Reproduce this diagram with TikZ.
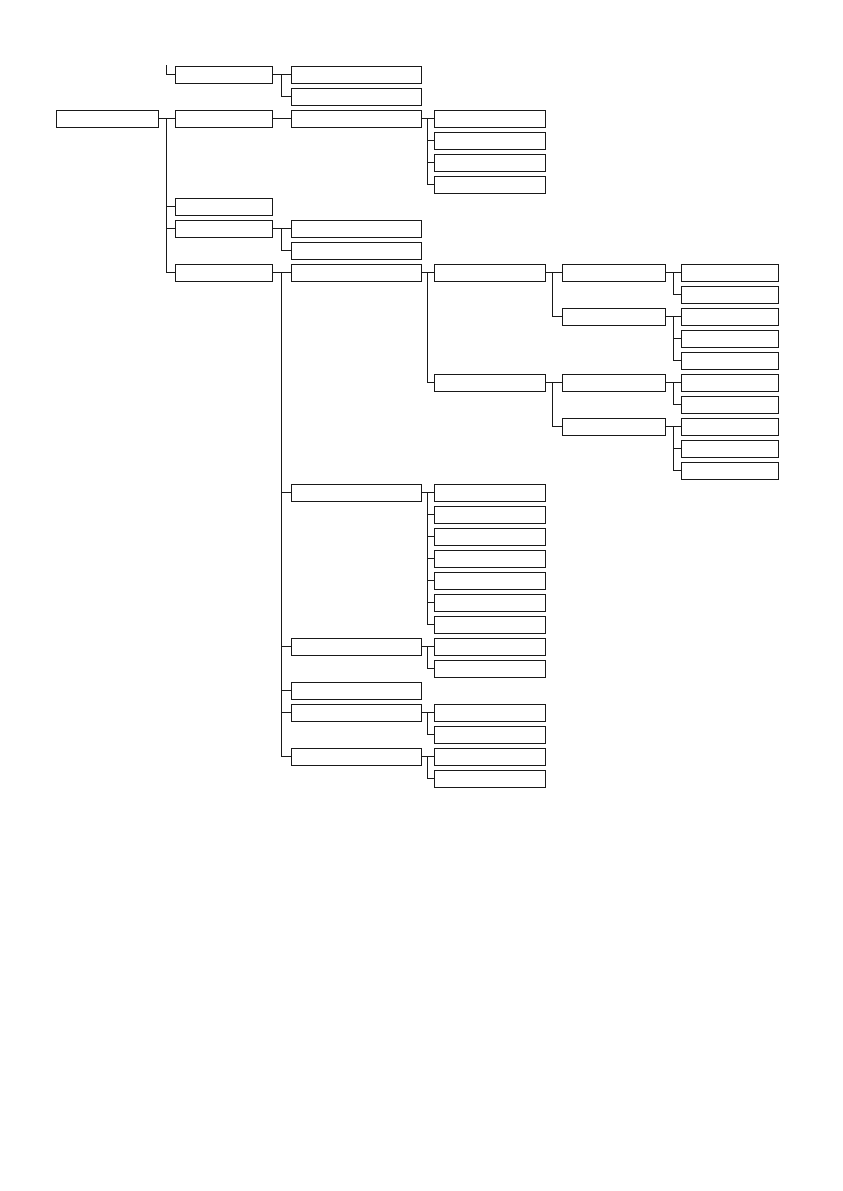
\documentclass[tikz,border=0pt]{standalone}
\begin{document}
\begin{tikzpicture}[x=1pt,y=-1pt,
  box/.style={draw=black!90, line width=1.1pt, inner sep=0pt, outer sep=0pt, minimum height=17pt},
  link/.style={draw=black!90, line width=1.1pt}]
\useasboundingbox (0,0) rectangle (843,1191);
\newcommand\mybox[4]{\node[box, minimum width=#3pt] (#1) at ({#2+#3/2},{74.8+22*#4}) {};}
\newcommand\fan[4]{%
  \draw[link] (#1.east) -- (#3.west);
  \coordinate (j#1) at (#2,0);
  \foreach \c in {#4} {\draw[link] (j#1 |- #1.east) |- (\c.west);}}
% boxes
\mybox{r}{56.3}{102.4}{2}
\foreach \k in {0,2,6,7,9} {\mybox{a\k}{175.3}{97}{\k}}
\foreach \k in {0,1,2,7,8,9,19,26,28,29,31} {\mybox{b\k}{291.3}{130.4}{\k}}
\foreach \k in {2,3,4,5,9,14,19,20,21,22,23,24,25,26,27,29,30,31,32} {\mybox{c\k}{434.2}{111.5}{\k}}
\foreach \k in {9,11,14,16} {\mybox{d\k}{562.3}{103.4}{\k}}
\foreach \k in {9,10,11,12,13,14,15,16,17,18} {\mybox{e\k}{681.3}{97.4}{\k}}
% connectors
\coordinate (t0) at (166.7,65);
\draw[link] (t0) |- (a0.west);
\fan{r}{166.7}{a2}{a6,a7,a9}
\fan{a0}{281.5}{b0}{b1}
\draw[link] (a2.east) -- (b2.west);
\fan{b2}{427.6}{c2}{c3,c4,c5}
\fan{a7}{281.5}{b7}{b8}
\fan{a9}{281.5}{b9}{b19,b26,b28,b29,b31}
\fan{b9}{427.6}{c9}{c14}
\fan{c9}{552.4}{d9}{d11}
\fan{d9}{673.4}{e9}{e10}
\fan{d11}{673.4}{e11}{e12,e13}
\fan{c14}{552.4}{d14}{d16}
\fan{d14}{673.4}{e14}{e15}
\fan{d16}{673.4}{e16}{e17,e18}
\fan{b19}{427.6}{c19}{c20,c21,c22,c23,c24,c25}
\fan{b26}{427.6}{c26}{c27}
\fan{b29}{427.6}{c29}{c30}
\fan{b31}{427.6}{c31}{c32}
\end{tikzpicture}
\end{document}
